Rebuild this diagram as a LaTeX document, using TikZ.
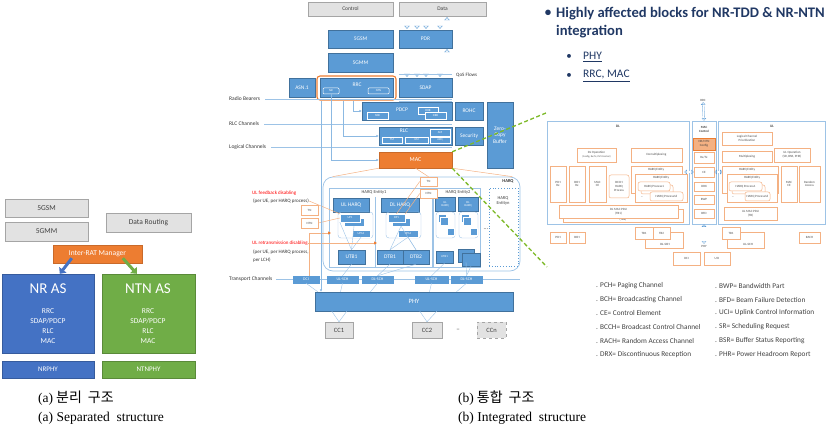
\documentclass[tikz,border=0pt]{standalone}
\usepackage{fontspec}
\setmainfont{Carlito}
\newfontfamily\serifcap{Liberation Serif}
\newfontfamily\kr{Noto Sans CJK KR}
\usetikzlibrary{arrows.meta,calc}
\definecolor{mblue}{HTML}{5B9BD5}
\definecolor{mblueD}{HTML}{41719C}
\definecolor{lblue}{HTML}{9DC3E6}
\definecolor{morange}{HTML}{ED7D31}
\definecolor{lorange}{HTML}{F4B183}
\definecolor{vlorange}{HTML}{F8CBAD}
\definecolor{lgray}{RGB}{226,226,226}
\definecolor{dgray}{RGB}{165,165,165}
\definecolor{nrblue}{HTML}{4472C4}
\definecolor{ntngreen}{HTML}{70AD47}
\definecolor{navy}{RGB}{32,56,100}
\definecolor{gdashc}{RGB}{125,185,40}
\newcommand\fz[2]{\fontsize{#1}{#2}\selectfont}
\newcommand\bx[7]{\node[#6,minimum width={(#4-#2)*1pt},minimum height={(#5-#3)*1pt}] (#1) at ({(#2+#4)/2},{(#3+#5)/2}) {#7};}
\tikzset{
 every node/.style={inner sep=0pt,align=center},
 gbox/.style={fill=lgray,draw=dgray,text=black!75,font=\fz{7.5}{9}},
 mgbox/.style={fill=lgray,draw=dgray,text=black!75,font=\fz{5.5}{6.5}},
 bb/.style={fill=mblue,draw=mblueD,line width=0.4,text=white,font=\fz{5.5}{6.5}},
 sb/.style={fill=mblue,draw=white,line width=0.4,text=white,font=\fz{3}{3.5}},
 tbar/.style={fill=mblue,draw=mblue,text=white,font=\fz{4}{4.5}},
 ob/.style={fill=white,draw=lorange,line width=0.5,text=black!70,font=\fz{3.2}{3.8}},
 rl/.style={draw=lblue,line width=0.6},
 grp/.style={draw=lblue,line width=0.4,rounded corners=3},
 lbl/.style={anchor=west,font=\fz{5.5}{6.5},text=black!80},
 rlbl/.style={anchor=west,font=\fz{5}{8},text=black!80,align=left},
 chan/.style={draw=lblue,line width=0.8},
 fan/.style={draw=lblue,line width=0.4},
 conn/.style={draw=mblue!70,line width=0.6,-{Latex[length=2.5pt,width=2.5pt]}},
 orl/.style={draw=lorange,line width=0.5},
 ora/.style={draw=lorange,line width=0.7,-{Triangle[length=3pt,width=3pt,color=morange]}},
 oarr/.style={draw=mblue,line width=0.4,double=white,double distance=1.8pt,-{Triangle[open,length=3pt,width=5.5pt]}},
 oarrS/.style={draw=mblue,line width=0.3,double=white,double distance=1.4pt,{Triangle[open,length=2.5pt,width=4.5pt]}-{Triangle[open,length=2.5pt,width=4.5pt]}},
 gdash/.style={draw=gdashc,line width=1.3,dash pattern=on 4pt off 2.5pt},
 tiny/.style={font=\fz{3.2}{3.8},text=black!75},
 leg/.style={anchor=west,font=\fz{7.3}{8.5},text=black!75},
}
\begin{document}
\begin{tikzpicture}[x=1pt,y=-1pt]
\useasboundingbox (0,0) rectangle (827,427);
% ================= (a) separated structure =================
\bx{gsmA}{5}{199}{88}{217}{gbox}{5GSM}
\bx{gmmA}{5}{222}{88}{241}{gbox}{5GMM}
\bx{drA}{106}{213}{191}{232}{gbox}{Data Routing}
\bx{nras}{2}{274}{94}{353}{fill=nrblue,draw=nrblue!80!black,line width=0.4}{}
\bx{ntnas}{102}{274}{195}{353}{fill=ntngreen,draw=ntngreen!80!black,line width=0.4}{}
\node[text=white,font=\fz{15}{17}] (nrt) at (48,289) {NR AS};
\node[text=white,font=\fz{7.5}{10}] (nrl) at (48,326) {RRC\\SDAP/PDCP\\RLC\\MAC};
\node[text=white,font=\fz{15}{17}] (ntnt) at (148,289) {NTN AS};
\node[text=white,font=\fz{7.5}{10}] (ntnl) at (148,326) {RRC\\SDAP/PDCP\\RLC\\MAC};
\bx{nrphy}{2}{361}{94}{378}{fill=nrblue,draw=nrblue!80!black,line width=0.4,text=white,font=\fz{7}{8}}{NRPHY}
\bx{ntnphy}{102}{361}{195}{378}{fill=ntngreen,draw=ntngreen!80!black,line width=0.4,text=white,font=\fz{7}{8}}{NTNPHY}
\bx{irat}{53}{245}{142}{263}{fill=morange,draw=morange!85!black,line width=0.4,text=white,font=\fz{7.5}{9}}{Inter-RAT Manager}
\draw[nrblue,line width=3pt,-{Triangle[length=5pt,width=9pt]}] ($(irat.south west)+(19,-5)$) -- ($(nras.north west)+(58,0)$);
\draw[ntngreen,line width=3pt,-{Triangle[length=5pt,width=9pt]}] ($(irat.south west)+(70,-5)$) -- ($(ntnas.north west)+(35,0)$);
\node[anchor=west,font=\fz{13.5}{15}] (capa1) at (38,398) {{\serifcap (a)}\hspace{3pt}{\kr\fz{14}{15}분리\hspace{6pt}구조}};
\node[anchor=west,font=\serifcap\fz{13.5}{15}] (capa2) at (38,418) {(a) Separated\ \ structure};
% ================= (b) integrated structure =================
\bx{ctrl}{308}{2}{393}{16}{mgbox}{Control}
\bx{data}{399}{2}{486}{16}{mgbox}{Data}
\bx{gsmB}{328}{30}{393}{48}{bb}{5GSM}
\bx{gmmB}{328}{53}{393}{72}{bb}{5GMM}
\bx{pdr}{399}{30}{452}{48}{bb}{PDR}
\bx{asn}{289}{78}{315}{97}{bb}{ASN.1}
\bx{rrc}{320}{78}{393}{97}{bb}{}
\node[text=white,font=\fz{5.5}{6.5}] (rrct) at (357,85) {RRC};
\bx{nrsm}{323}{88}{339}{94}{draw=white,line width=0.5,text=white,font=\fz{3}{3.5},rounded corners=1}{NR}
\bx{ntnsm}{368}{88}{389}{94}{draw=white,line width=0.5,text=white,font=\fz{3}{3.5},rounded corners=1}{NTN}
\bx{rrcsel}{317}{76}{396}{100}{draw=morange,line width=1.1,rounded corners=3}{}
\bx{sdap}{399}{78}{452}{97}{bb}{SDAP}
\foreach \x in {407,417,426,440}{
  \coordinate (t) at (\x,0);
  \draw[oarr] ([yshift=-1pt]data.south -| t) -- ([yshift=1pt]pdr.north -| t);
  \draw[oarr] ([yshift=-1pt]pdr.south -| t) -- ([yshift=1pt]sdap.north -| t);
}
\coordinate (t) at (447,0);
\draw[oarr] ([yshift=1pt]pdr.north -| t) -- ([yshift=-1pt]data.south -| t);
\draw[oarr] ([yshift=1pt]sdap.north -| t) -- ([yshift=-1pt]pdr.south -| t);
\coordinate (qos) at (0,74);
\draw[lblue,line width=0.4] (sdap.west |- qos) -- (sdap.east |- qos);
\node[lbl,font=\fz{5}{6}] (qosl) at (456,75) {QoS Flows};
\bx{pdcp}{362}{102}{452}{120}{bb}{}
\node[text=white,font=\fz{5.5}{6.5}] (pdcpt) at (402,110) {PDCP};
\bx{srb}{367}{112}{388}{119}{sb}{SRB}
\bx{drb1}{418}{107}{438}{114}{sb}{DRB}
\bx{drb2}{425}{112}{446}{119}{sb}{DRB}
\bx{rohc}{455}{102}{483}{120}{bb}{ROHC}
\bx{zcb}{487}{102}{513}{168}{bb}{Zero-\\Copy\\Buffer}
\bx{rlc}{379}{127}{452}{145}{bb}{}
\node[text=white,font=\fz{5.5}{6.5}] (rlct) at (404,131) {RLC};
\bx{tm}{382}{137}{402}{143}{sb}{TM}
\bx{um}{405}{137}{428}{143}{sb}{UM}
\bx{am}{430}{129}{450}{136}{sb}{AM}
\bx{arq}{430}{137}{450}{143}{sb}{ARQ}
\bx{sec}{455}{127}{483}{145}{bb}{Security}
\bx{mac}{379}{152}{452}{168}{fill=morange,draw=morange!85!black,line width=0.4,text=white,font=\fz{6}{7}}{MAC}
\node[lbl] (rbl) at (229,99) {Radio Bearers};
\node[lbl] (rlcl) at (229,124) {RLC Channels};
\node[lbl] (lcl) at (229,147) {Logical Channels};
\draw[chan] ([xshift=5pt]rbl.east) -- (sdap.east |- rbl.east);
\draw[lblue,line width=0.5] (sdap.west |- 0,101.5) -- (sdap.east |- 0,101.5);
\draw[chan] ([xshift=5pt]rlcl.east) -- (rlc.east |- rlcl.east);
\draw[chan] ([xshift=5pt]lcl.east) -- (mac.east |- lcl.east);
% HARQ region
\bx{harq}{323}{177}{520}{271}{draw=lblue,rounded corners=10,line width=0.7}{}
\node[font=\bfseries\fz{4.5}{5},text=black!80] (harqt) at (508,181) {HARQ};
\draw[orl] (mac.south west) -- ([xshift=10pt]harq.north west);
\draw[orl] (mac.south east) -- ([xshift=-8pt]harq.north east);
\bx{he1}{329}{188}{432}{267}{draw=lblue,line width=0.5}{}
\node[tiny,font=\fz{4.5}{5}] (he1t) at (374,192) {HARQ Entity1};
\coordinate (dv) at (375,197);
\draw[lblue,line width=0.5] (dv) -- (dv |- he1.south);
\bx{ulh}{333}{198}{369}{212}{bb}{UL HARQ}
\bx{dlh}{381}{198}{419}{212}{bb}{DL HARQ}
\bx{upg}{338}{212}{373}{238}{grp}{}
\bx{dpg}{386}{212}{421}{238}{grp}{}
\bx{up1b}{344}{218}{364}{226}{sb}{}
\bx{up1}{340}{214}{360}{222}{sb}{UP1}
\bx{up16}{352}{230}{370}{237}{sb}{UP16}
\bx{dp1b}{392}{218}{410}{226}{sb}{}
\bx{dp1}{388}{214}{405}{222}{sb}{DP1}
\bx{dp16}{398}{230}{418}{237}{sb}{DP16}
\bx{utb1}{338}{250}{365}{264}{bb}{UTB1}
\bx{dtb1}{377}{250}{403}{264}{bb}{DTB1}
\bx{dtb2}{403}{250}{429}{264}{bb}{DTB2}
\draw[fan] (up1b.south) -- (utb1.north);
\draw[fan] (up16.south) -- (utb1.north);
\draw[fan] (up1.south west) -- (utb1.north);
\draw[fan] (dp1b.south) -- (dtb1.north);
\draw[fan] (dp16.south) -- (dtb1.north);
\draw[fan] (dp16.south) -- (dtb2.north);
\draw[fan] (dp1b.south) -- (dtb2.north);
\bx{he2}{433}{188}{480}{267}{draw=lblue,line width=0.5}{}
\node[tiny,font=\fz{4.5}{5}] (he2t) at (458,192) {HARQ Entity2};
\bx{ulh2}{435}{197}{455}{211}{bb,font=\fz{3}{3.5}}{UL\\HARQ}
\bx{dlh2}{458}{197}{478}{211}{bb,font=\fz{3}{3.5}}{DL\\HARQ}
\bx{ug2}{436}{212}{455}{238}{grp}{}
\bx{dg2}{459}{212}{478}{238}{grp}{}
\bx{u2a}{438}{214}{446}{222}{sb}{}
\bx{u2b}{440}{217}{448}{225}{sb}{}
\bx{u2c}{447}{228}{454}{235}{sb}{}
\bx{d2a}{461}{214}{469}{222}{sb}{}
\bx{d2b}{463}{217}{471}{225}{sb}{}
\bx{d2c}{470}{228}{477}{235}{sb}{}
\bx{utb2}{436}{251}{453}{263}{bb,font=\fz{3}{3.5}}{UTB1}
\bx{dtb2a}{458}{249}{474}{262}{bb,font=\fz{3}{3.5}}{DTB1}
\bx{dtb2b}{462}{253}{480}{266}{bb}{}
\node[tiny,font=\fz{6}{6}] (hdots) at (486,229) {...};
\bx{hen}{489}{188}{518}{266}{draw=mblue,dotted,line width=0.8}{}
\node[tiny,font=\fz{4.5}{5.5}] (hent) at (503,201) {HARQ\\Entityn};
% orange TN boxes and labels
\bx{tn1}{420}{177}{437}{186}{ob}{TN}
\bx{tn2}{420}{189}{437}{198}{ob}{NTN}
\bx{tn3}{301}{205}{318}{215}{ob}{TN}
\bx{tn4}{301}{218}{318}{228}{ob}{NTN}
\draw[orl] (mac.south) -- (tn1.north);
\draw[orl] (tn1.west) -- (dp1.north);
\draw[orl] (tn2.west) -- (dp1.north east);
\node[rlbl,text=red] (ulfb) at (252,193) {UL feedback disabling};
\node[rlbl] (ulfb2) at (253,201) {(per UE, per HARQ process)};
\node[rlbl,text=red] (ulrt) at (252,243) {UL retransmission disabling};
\node[rlbl] (ulrt2) at (253,256) {(per UE, per HARQ process,\\per LCH)};
\draw[orl] (ulfb2.east) -- (up1.north west);
\draw[orl] (tn4.east) -- (up1.west);
\draw[ora] (ulrt.east) -- ([xshift=2pt]dv |- ulrt.east);
% transport channels / PHY
\node[lbl] (tcl) at (229,279) {Transport Channels};
\draw[chan] ([xshift=4pt]tcl.east) -- (harq.east |- tcl.east);
\bx{dci}{293}{276}{319}{283}{tbar}{DCI}
\bx{ulsch1}{327}{276}{358}{283}{tbar}{UL-SCH}
\bx{dlsch1}{362}{276}{393}{283}{tbar}{DL-SCH}
\bx{ulsch2}{415}{276}{448}{283}{tbar}{UL-SCH}
\bx{dlsch2}{451}{276}{482}{283}{tbar}{DL-SCH}
\coordinate (rt) at (331,233);
\draw[ora] ([xshift=3pt]dci.north) |- (rt);
\bx{phy}{315}{292}{513}{311}{bb,font=\fz{6.5}{7.5}}{PHY}
\coordinate (v1) at (321,0);
\draw[conn] (rrcsel.south -| v1) -- (phy.north -| v1);
\draw[conn] (nrsm.south) |- (mac.west);
\coordinate (v3) at (343,0);
\draw[conn] (rrcsel.south -| v3) |- (rlc.west);
\coordinate (v4) at (353,0);
\draw[conn] (rrcsel.south -| v4) |- (pdcp.west);
\draw[fan] (dci.south) -- ([xshift=3pt]phy.north west);
\draw[fan] (ulsch1.south) -- ([xshift=-2pt]ulsch1.south |- phy.north);
\draw[fan] (dlsch1.south) -- ([xshift=-7pt]dlsch1.south |- phy.north);
\draw[fan] (ulsch2.south) -- ([xshift=-2pt]ulsch2.south |- phy.north);
\draw[fan] (dlsch2.south) -- ([xshift=-10pt]dlsch2.south |- phy.north);
\draw[fan] (utb1.south) -- (ulsch1.north);
\draw[fan] (dtb1.south) -- (dlsch1.north);
\draw[fan] (dtb2.south) -- (dlsch1.north);
\draw[fan] (utb2.south) -- (ulsch2.north);
\draw[fan] (dtb2a.south) -- (dlsch2.north);
\draw[fan] (dtb2b.south) -- (dlsch2.north);
\bx{cc1}{325}{322}{353}{338}{mgbox,font=\fz{6.5}{7.5}}{CC1}
\bx{cc2}{412}{322}{442}{338}{mgbox,font=\fz{6.5}{7.5}}{CC2}
\node[text=black!70,font=\fz{7}{8}] (ccdots) at (458,330) {--};
\bx{ccn}{477}{322}{506}{338}{mgbox,dashed,font=\fz{6.5}{7.5}}{CCn}
\draw[fan] ([xshift=17pt]phy.south west) -- (cc1.north);
\draw[fan] ([xshift=32pt]phy.south west) -- (cc1.north);
\draw[fan] ([xshift=105pt]phy.south west) -- (cc2.north);
\draw[fan] ([xshift=122pt]phy.south west) -- (cc2.north);
\node[anchor=west,font=\fz{13.5}{15}] (capb1) at (458,398) {{\serifcap (b)}\hspace{3pt}{\kr\fz{14}{15}통합\hspace{6pt}구조}};
\node[anchor=west,font=\serifcap\fz{13.5}{15}] (capb2) at (458,418) {(b) Integrated\ \ structure};
% ================= right: MAC detail =================
\node[text=navy,font=\bfseries\fz{13}{15}] (b1) at (548,13) {•};
\node[anchor=west,text=navy,font=\bfseries\fz{14.6}{16}] (h1) at (556,14) {Highly affected blocks for NR-TDD \& NR-NTN};
\node[anchor=west,text=navy,font=\bfseries\fz{14.6}{16}] (h2) at (556,32) {integration};
\node[text=navy,font=\fz{11}{13}] (b2) at (569,57) {•};
\node[anchor=west,text=navy,font=\fz{11.5}{13}] (h3) at (583,57) {\underline{PHY}};
\node[text=navy,font=\fz{11}{13}] (b3) at (569,76) {•};
\node[anchor=west,text=navy,font=\fz{11.5}{13}] (h4) at (583,76) {\underline{RRC, MAC}};
\bx{dlbox}{547}{121}{689}{224}{rl}{}
\node[tiny,font=\bfseries\fz{3.5}{4}] (dlt) at (618,126) {DL};
\bx{mcc}{692}{121}{716}{224}{rl}{}
\node[tiny,font=\bfseries\fz{3.2}{4}] (mcct) at (704,129) {MAC\\Control};
\bx{ulbox}{718}{121}{825}{224}{rl}{}
\node[tiny,font=\bfseries\fz{3.5}{4}] (ult) at (772,126) {UL};
\node[tiny] (rrcl) at (703,100) {RRC};
\node[tiny] (phyl) at (704,246) {PHY};
\draw[oarrS] ([yshift=-1pt]rrcl.south) -- (mcc.north);
\draw[oarrS] (mcc.south) -- ([yshift=1pt]phyl.north);
\bx{cfg}{693}{138}{715}{150}{fill=lorange,draw=morange,line width=0.4,tiny}{NR/NTN\\Config}
\bx{rxtx}{694}{152}{714}{163}{ob}{Rx/Tx}
\bx{ce}{694}{167}{714}{177}{ob}{CE}
\bx{drx}{694}{182}{714}{191}{ob}{DRX}
\bx{bwp}{694}{195}{714}{204}{ob}{BWP}
\bx{bfd}{694}{209}{714}{218}{ob}{BFD}
\draw[oarrS] ([xshift=-5pt]dlbox.east |- ce.west) -- (ce.west);
\draw[oarrS] (ce.east) -- ([xshift=5pt]ulbox.west |- ce.east);
\bx{dlop}{577}{148}{616}{162}{ob}{DL Operation\\{\fz{2.5}{3}(Config, Rx/Tx, PHY Control)}}
\bx{demux}{631}{148}{682}{162}{ob}{Demultiplexing}
\bx{pchrx}{550}{166}{566}{202}{ob}{PCH\\Rx}
\bx{bchrx}{569}{166}{585}{202}{ob}{BCH\\Rx}
\bx{macce1}{589}{166}{606}{202}{ob}{MAC\\CE}
\bx{bcch}{609}{175}{629}{198}{ob,rounded corners=2}{BCCH\\HARQ\\Process}
\bx{he1r}{631}{166}{682}{193}{ob}{}
\node[tiny] (he1rt) at (656,170) {HARQ Entity};
\bx{he1rb}{635}{174}{687}{202}{ob}{}
\node[tiny] (he1rbt) at (661,178) {HARQ Entity};
\bx{hp1b}{641}{185}{673}{194}{ob,rounded corners=2}{}
\bx{hp1}{638}{182}{670}{191}{ob,rounded corners=2}{HARQ Process1}
\bx{hp16}{650}{192}{683}{201}{ob,rounded corners=2}{HARQ Process16}
\node[tiny] (hpd) at (642,197) {...};
\bx{pdu2}{563}{209}{683}{222}{ob}{}
\node[tiny] (pdu2t) at (623,219.5) {(TB2)};
\bx{pdu1}{559}{205}{678}{218}{ob}{DL MAC PDU\\(TB1)}
\bx{lcp}{722}{132}{772}{145}{ob}{Logical Channel\\Prioritization}
\bx{mux}{722}{151}{772}{162}{ob}{Multiplexing}
\bx{ulop}{774}{148}{810}{162}{ob}{UL Operation\\(SR, BSR, PHR)}
\bx{heu}{722}{166}{778}{193}{ob}{}
\node[tiny] (heut) at (747,170) {HARQ Entity};
\bx{heub}{727}{174}{777}{202}{ob}{}
\node[tiny] (heubt) at (752,178) {HARQ Entity};
\bx{hpu1b}{732}{185}{765}{194}{ob,rounded corners=2}{}
\bx{hpu1}{729}{182}{762}{191}{ob,rounded corners=2}{HARQ Process1}
\bx{hpu16}{745}{192}{770}{201}{ob,rounded corners=2}{HARQ Process16}
\node[tiny] (hpud) at (733,197) {...};
\bx{maceu}{781}{166}{797}{202}{ob}{MAC\\CE}
\bx{ra}{799}{166}{820}{202}{ob}{Random\\Access}
\bx{ulpdu}{724}{207}{777}{220}{ob}{UL MAC PDU\\(TB)}
\bx{pch}{550}{232}{566}{243}{ob}{PCH}
\bx{bch}{569}{232}{585}{243}{ob}{BCH}
\bx{dlschr}{645}{232}{683}{248}{ob}{}
\node[tiny] (dlschrt) at (665,244) {DL-SCH};
\bx{tb1}{635}{227}{653}{239}{ob}{TB1}
\bx{tb2}{653}{227}{670}{239}{ob}{TB2}
\bx{ulschr}{727}{232}{764}{248}{ob}{}
\node[tiny] (ulschrt) at (748,244) {UL-SCH};
\bx{tbu}{722}{227}{740}{239}{ob}{TB1}
\bx{rach}{799}{232}{820}{243}{ob}{RACH}
\bx{dci2}{673}{252}{700}{265}{ob}{DCI}
\bx{uci}{704}{252}{730}{265}{ob}{UCI}
% legend
\node[leg] (l1) at (596,286) {. PCH= Paging Channel};
\node[leg] (l2) at (596,300) {. BCH= Broadcasting Channel};
\node[leg] (l3) at (596,313) {. CE= Control Element};
\node[leg] (l4) at (596,327) {. BCCH= Broadcast Control Channel};
\node[leg] (l5) at (596,341) {. RACH= Random Access Channel};
\node[leg] (l6) at (596,355) {. DRX= Discontinuous Reception};
\node[leg] (r1) at (715,286) {. BWP= Bandwidth Part};
\node[leg] (r2) at (715,300) {. BFD= Beam Failure Detection};
\node[leg] (r3) at (715,313) {. UCI= Uplink Control Information};
\node[leg] (r4) at (715,327) {. SR= Scheduling Request};
\node[leg] (r5) at (715,341) {. BSR= Buffer Status Reporting};
\node[leg] (r6) at (715,355) {. PHR= Power Headroom Report};
% green dashed zoom lines
\coordinate (gl) at (547,267);
\draw[gdash] (mac.north east) -- ([yshift=8pt]dlbox.north west);
\draw[gdash] (mac.south east) -- (gl);
\end{tikzpicture}
\end{document}
